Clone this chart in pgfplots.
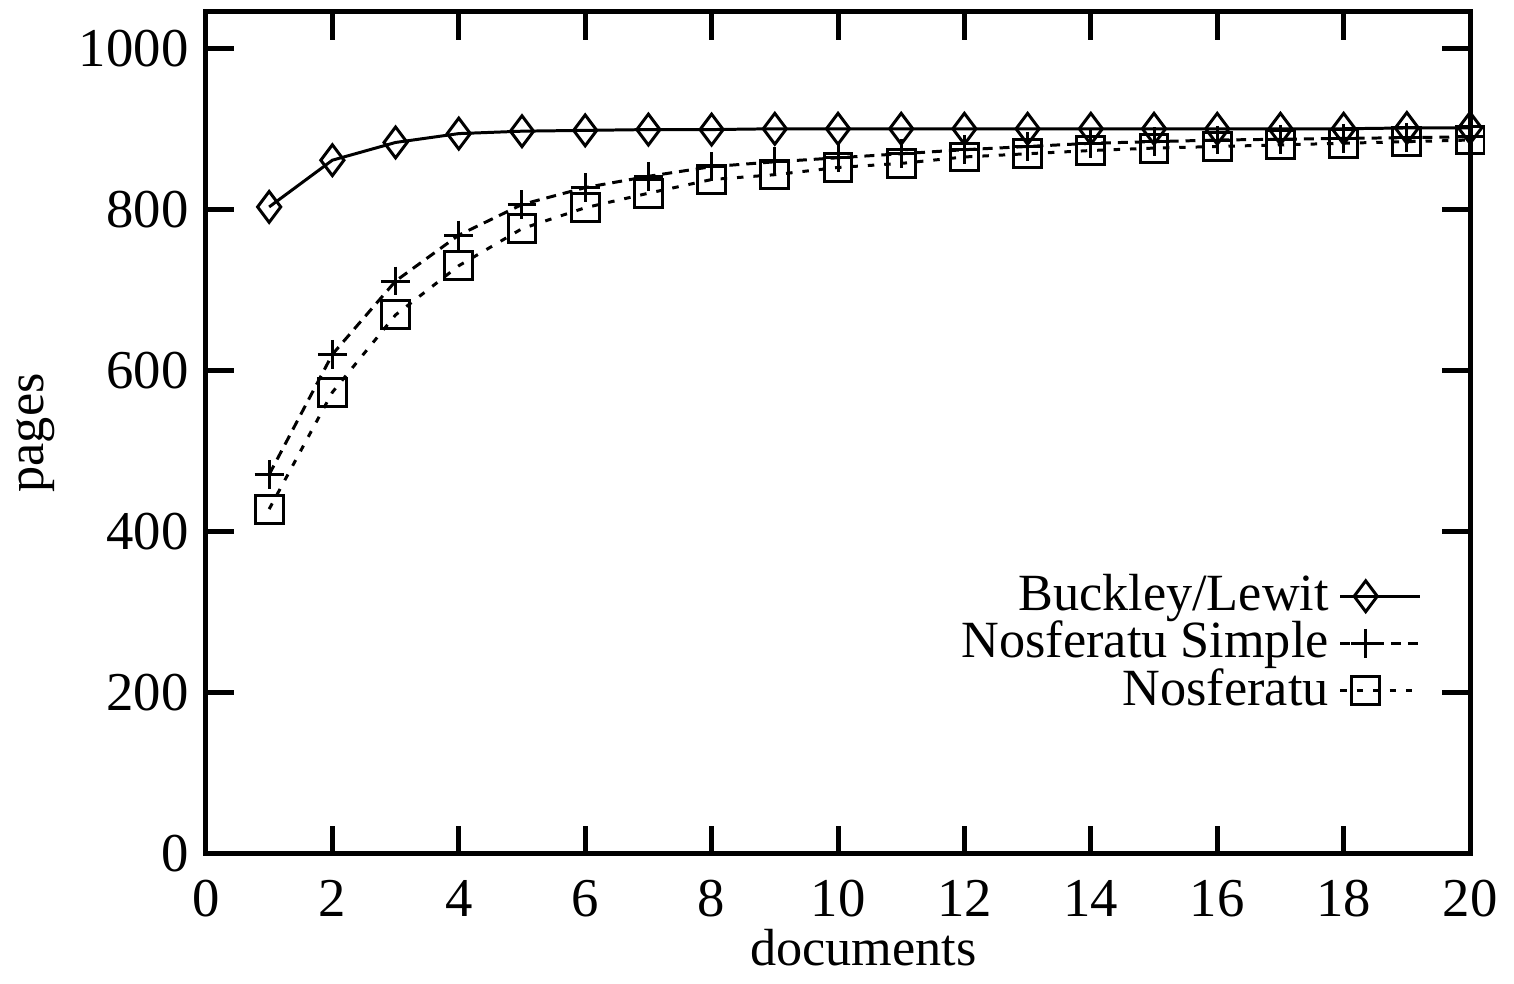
\documentclass[border=0pt]{standalone}
\usepackage{pgfplots}
\pgfplotsset{compat=1.18}
\usepackage{fontspec}
\setmainfont{Liberation Serif}
\begin{document}
\begin{tikzpicture}
\begin{axis}[
  scale only axis,
  width=254pt, height=169.2pt,
  xmin=0, xmax=20, ymin=0, ymax=1045,
  xtick={0,2,...,20}, ytick={0,200,...,1000},
  tick align=inside, major tick length=5.6pt,
  axis line style={line width=1pt},
  every tick/.style={line width=1pt, black},
  /pgf/number format/assume math mode=true,
  /pgf/number format/1000 sep={},
  tick label style={font=\fontsize{11}{11}\selectfont},
  xticklabel style={yshift=-1.8pt},
  label style={font=\fontsize{10.5}{10.5}\selectfont},
  xlabel={documents}, ylabel={pages},
  xlabel style={at={(ticklabel cs:0.52)}, anchor=north, yshift=4.4pt},
  ylabel style={yshift=-2pt},
  legend plot pos=right,
  legend cell align=right,
  legend style={draw=none, fill=none, at={(axis description cs:0.962,0.345)}, anchor=north east,
    font=\fontsize{10.5}{10.5}\selectfont, row sep=-3.4pt, inner sep=0pt},
  legend image code/.code={\draw[mark repeat=2,mark phase=2] plot coordinates {(0cm,0cm)(0.18cm,0cm)(0.56cm,0cm)};},
  every axis plot/.append style={line width=0.6pt, black},
]
\addplot[mark=diamond, mark size=3.1pt, mark options={solid, line width=0.6pt}] coordinates {
(1,803) (2,861) (3,883) (4,894) (5,897) (6,898) (7,899) (8,899) (9,900) (10,900)
(11,900) (12,900) (13,900) (14,900) (15,900) (16,900) (17,900) (18,900) (19,901) (20,901)};
\addlegendentry{Buckley/Lewit}
\addplot[dash pattern=on 2pt off 1.4pt, mark=+, mark size=2.9pt, mark options={solid, line width=0.6pt}] coordinates {
(1,471) (2,620) (3,711) (4,768) (5,806) (6,827) (7,841) (8,853) (9,859) (10,864)
(11,869) (12,874) (13,878) (14,882) (15,884) (16,886) (17,887) (18,888) (19,889) (20,890)};
\addlegendentry{Nosferatu Simple}
\addplot[dash pattern=on 1.3pt off 2pt, mark=square, mark size=2.8pt, mark options={solid, line width=0.6pt}] coordinates {
(1,428) (2,573) (3,669) (4,730) (5,776) (6,802) (7,820) (8,837) (9,843) (10,852)
(11,857) (12,865) (13,869) (14,873) (15,876) (16,878) (17,880) (18,882) (19,884) (20,886)};
\addlegendentry{Nosferatu}
\end{axis}
\path (current axis.north) ++(0,2.4pt);
\end{tikzpicture}
\end{document}
